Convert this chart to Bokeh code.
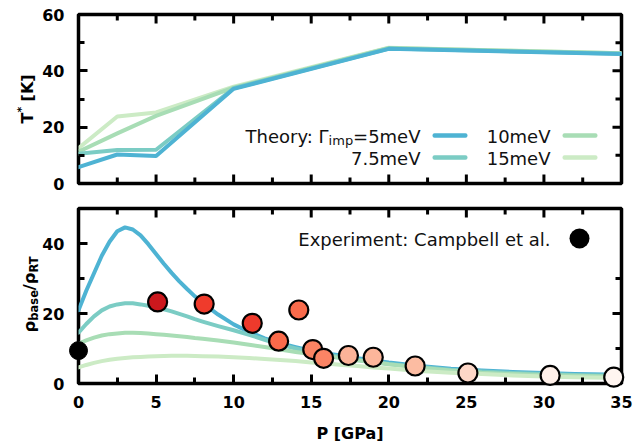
import math
from bokeh.plotting import figure
from bokeh.models import Range1d, FixedTicker, Label, BoxAnnotation, ColumnDataSource
from bokeh.layouts import column
from bokeh.core.properties import value
from bokeh.embed import file_html
from bokeh.resources import INLINE

# ---------------- data ----------------
# Top panel: T* vs pressure for several impurity scattering rates
P_T = [0, 2.5, 5, 10, 20, 35]
T_5 = [5.8, 10.3, 9.8, 33.6, 47.8, 46.0]
T_7p5 = [10.6, 11.9, 12.0, 33.8, 47.9, 46.1]
T_10 = [11.3, 17.8, 24.0, 34.0, 48.1, 46.2]
T_15 = [12.5, 23.8, 25.2, 34.4, 48.2, 46.2]

# Bottom panel: theory curves rho_base / rho_RT
P_R = [0, 0.5, 1, 1.5, 2, 2.5, 3, 3.5, 4, 4.5, 5, 5.5, 6, 6.5, 7, 7.5, 8, 9, 10,
       11, 12, 13, 14, 15, 16, 17, 18, 19, 20, 22, 24, 26, 28, 30, 32, 35]
R_5 = [20.9, 26.5, 31.5, 36.5, 40.5, 43.5, 44.6, 44.0, 42.3, 39.8, 37.0, 34.2,
       31.6, 29.2, 27.0, 24.9, 23.0, 19.7, 16.9, 14.7, 12.9, 11.5, 10.4, 9.4,
       8.6, 7.9, 7.2, 6.6, 6.0, 5.0, 4.2, 3.7, 3.3, 3.0, 2.7, 2.5]
R_7p5 = [14.5, 17.0, 19.2, 20.9, 22.0, 22.6, 22.9, 22.9, 22.6, 22.2, 21.8, 21.2,
         20.6, 19.9, 19.2, 18.4, 17.7, 16.4, 15.2, 13.9, 12.5, 11.1, 10.0, 9.0,
         8.2, 7.5, 6.8, 6.2, 5.6, 4.7, 3.9, 3.4, 3.0, 2.7, 2.4, 2.2]
R_10 = [11.4, 12.3, 13.1, 13.7, 14.1, 14.3, 14.5, 14.5, 14.4, 14.3, 14.1, 13.9,
        13.7, 13.5, 13.3, 13.0, 12.8, 12.3, 11.7, 11.1, 10.4, 9.7, 9.0, 8.4,
        7.8, 7.2, 6.6, 6.1, 5.5, 4.5, 3.7, 3.1, 2.7, 2.4, 2.2, 1.9]
R_15 = [4.6, 5.3, 5.9, 6.4, 6.8, 7.1, 7.3, 7.5, 7.6, 7.7, 7.8, 7.85, 7.9, 7.9,
        7.9, 7.85, 7.8, 7.7, 7.5, 7.3, 7.0, 6.7, 6.4, 6.0, 5.7, 5.3, 5.0, 4.6,
        4.3, 3.6, 3.1, 2.7, 2.3, 2.0, 1.8, 1.6]

# Experiment (Campbell et al.)
P_exp = [5.1, 8.1, 11.2, 12.9, 14.2, 15.1, 15.8, 17.4, 19.0, 21.7, 25.1, 30.4, 34.5]
R_exp = [23.3, 22.7, 17.2, 12.1, 21.0, 9.7, 7.2, 8.0, 7.5, 5.0, 3.0, 2.3, 1.8]
C_exp = ["#cb181d", "#ef3b2c", "#ee3a2c", "#fa6a4a", "#f96b4c", "#fb8363",
         "#fb8465", "#fcb398", "#fcb69b", "#fcbca2", "#fdd7c7", "#fff0e9", "#fff5f0"]
P_exp0 = [0]
R_exp0 = [9.4]

gamma_labels = ["5meV", "7.5meV", "10meV", "15meV"]
gamma_colors = ["#4eb3d3", "#7bccc4", "#a8ddb5", "#ccebc5"]

x_major = [0, 5, 10, 15, 20, 25, 30, 35]
x_minor = [2.5, 7.5, 12.5, 17.5, 22.5, 27.5, 32.5]
y1_major = [0, 20, 40, 60]
y1_minor = [10, 30, 50]
y2_major = [0, 20, 40]
y2_minor = [10, 30]

FONT = "DejaVu Sans"
A = math.pi / 2
LBL_SHIFT = 6  # Label text renders slightly low; lift baselines


def style_axis(ax):
    ax.axis_line_color = None
    ax.major_tick_in = 9
    ax.major_tick_out = 0
    ax.minor_tick_in = 6
    ax.minor_tick_out = 0
    ax.major_tick_line_width = 3
    ax.minor_tick_line_width = 3
    ax.major_tick_line_color = "black"
    ax.minor_tick_line_color = "black"
    ax.major_label_text_font = FONT
    ax.major_label_text_font_style = "bold"
    ax.major_label_text_font_size = "16px"
    ax.major_label_text_color = "black"


def make_fig(h, ymax, ymaj, ymin, top, bottom, xaxis):
    p = figure(width=633, height=h, x_range=Range1d(0, 35), y_range=Range1d(0, ymax),
               output_backend="svg", toolbar_location=None,
               x_axis_location="below" if xaxis else None,
               min_border_left=78, min_border_right=12,
               min_border_top=top, min_border_bottom=bottom)
    p.grid.visible = False
    p.outline_line_color = "black"
    p.outline_line_width = 3.5
    p.outline_line_alpha = 1
    p.background_fill_color = "white"
    p.border_fill_color = "white"
    yax = p.yaxis[0]
    yax.ticker = FixedTicker(ticks=ymaj, minor_ticks=ymin)
    style_axis(yax)
    yax.major_label_standoff = 14
    xax = None
    if xaxis:
        xax = p.xaxis[0]
        xax.ticker = FixedTicker(ticks=x_major, minor_ticks=x_minor)
        style_axis(xax)
        xax.major_label_standoff = 12
    # inward ticks on the unlabeled sides (clipped to the frame)
    edges_x = [ymax] if xaxis else [0, ymax]
    for ye in edges_x:
        p.scatter(x_major[1:-1], [ye] * (len(x_major) - 2), marker="dash", angle=A,
                  size=18, line_color="black", line_width=3)
        p.scatter(x_minor, [ye] * len(x_minor), marker="dash", angle=A,
                  size=12, line_color="black", line_width=3)
    p.scatter([35] * (len(ymaj) - 2), ymaj[1:-1], marker="dash",
              size=18, line_color="black", line_width=3)
    p.scatter([35] * len(ymin), ymin, marker="dash",
              size=12, line_color="black", line_width=3)
    return p, xax


def lbl(p, x, y, text, size, align="left"):
    p.add_layout(Label(x=x, y=y + LBL_SHIFT, x_units="screen", y_units="screen",
                       text=text, text_font=FONT, text_font_size=size,
                       text_font_style="normal", text_color="#111111",
                       text_align=align, text_baseline="alphabetic"))


def vlabel(p, dx, dy, text, size):
    # rotated axis-title piece, anchored at the frame's lower-left corner
    p.text(x=[0], y=[0], text=[text], angle=A, x_offset=dx, y_offset=-dy,
           text_font=value(FONT), text_font_size=value(size), text_font_style="bold",
           text_color="black", text_align="left", text_baseline="alphabetic",
           level="overlay")


def swatch(p, l, r, b, t, color, radius):
    p.add_layout(BoxAnnotation(left=l, right=r, bottom=b, top=t,
                               left_units="screen", right_units="screen",
                               bottom_units="screen", top_units="screen",
                               fill_color=color, fill_alpha=1.0,
                               line_color=None, border_radius=radius))


# ---------------- top panel ----------------
p1, _ = make_fig(196, 60, y1_major, y1_minor, 14, 13, False)
top_series = [T_5, T_7p5, T_10, T_15]
for i in [3, 2, 1, 0]:
    p1.line(P_T, top_series[i], line_color=gamma_colors[i], line_width=4,
            line_join="round", line_cap="round")

# y label T* [K]
vlabel(p1, -51, 60.0, "T", "16px")
vlabel(p1, -57, 70.9, "*", "11px")
vlabel(p1, -51, 76.5, "\u00a0[K]", "16px")

# legend
lbl(p1, 250.1, 41.4, "Theory: \u0393", "18px", align="right")
lbl(p1, 250.1, 36.9, "imp", "13px")
lbl(p1, 342, 41.4, "=5meV", "18px", align="right")
lbl(p1, 342, 19.4, "7.5meV", "18px", align="right")
lbl(p1, 472, 41.4, "10meV", "18px", align="right")
lbl(p1, 472, 19.4, "15meV", "18px", align="right")
swatch(p1, 354, 389, 45.75, 50.25, gamma_colors[0], 2)
swatch(p1, 354, 389, 23.75, 28.25, gamma_colors[1], 2)
swatch(p1, 484, 519, 45.75, 50.25, gamma_colors[2], 2)
swatch(p1, 484, 519, 23.75, 28.25, gamma_colors[3], 2)

# ---------------- bottom panel ----------------
p2, xax2 = make_fig(251, 50, y2_major, y2_minor, 12, 64, True)
xax2.axis_label = "P [GPa]"
xax2.axis_label_text_font = FONT
xax2.axis_label_text_font_style = "bold"
xax2.axis_label_text_font_size = "16px"
xax2.axis_label_text_color = "black"
xax2.axis_label_standoff = 13

bottom_series = [R_5, R_7p5, R_10, R_15]
for i in [0, 1, 2, 3]:
    p2.line(P_R, bottom_series[i], line_color=gamma_colors[i], line_width=4,
            line_join="round", line_cap="round")

src = ColumnDataSource(dict(x=P_exp, y=R_exp, c=C_exp))
p2.scatter("x", "y", source=src, size=19, fill_color="c", line_color="black",
           line_width=2.2, level="overlay")
p2.scatter(P_exp0, R_exp0, size=18, fill_color="black", line_color="black",
           line_width=1, level="overlay")

# y label rho_base / rho_RT
vlabel(p2, -49, 51.0, "\u03c1", "16.5px")
vlabel(p2, -45, 62.8, "base", "11.5px")
vlabel(p2, -49, 93.2, "/\u03c1", "16.5px")
vlabel(p2, -45, 111.0, "RT", "11.5px")

# legend
lbl(p2, 472, 138.4, "Experiment: Campbell et al.", "18px", align="right")
swatch(p2, 491, 511, 135, 155, "black", 10)

layout = column(p1, p2)
open("out.html", "w").write(file_html(layout, INLINE))
